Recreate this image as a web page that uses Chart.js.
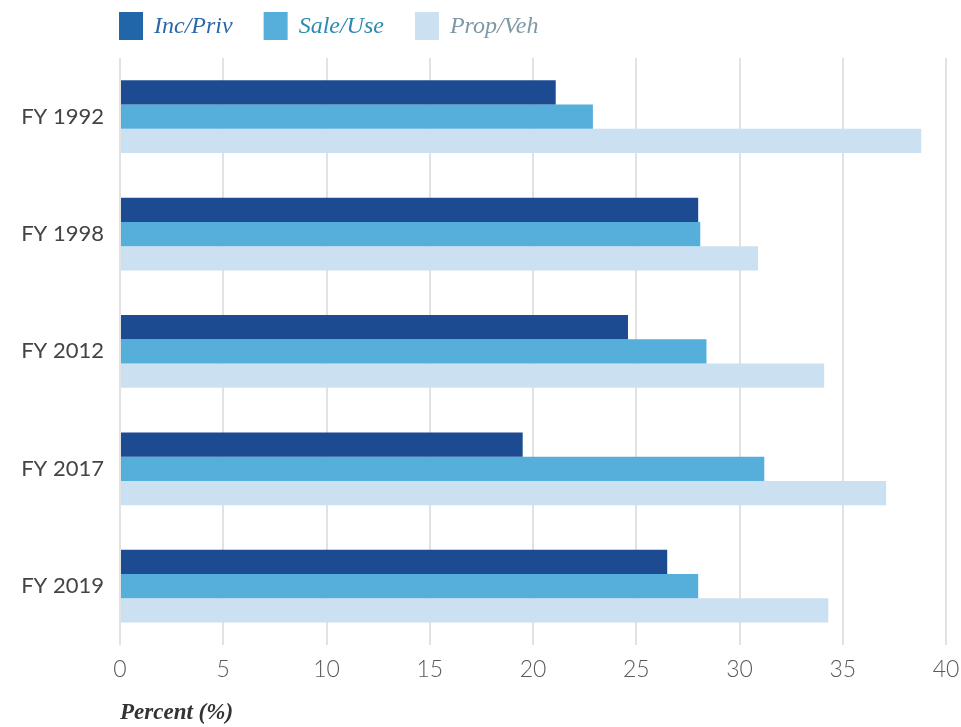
<!DOCTYPE html>
<html>
<head>
<meta charset="utf-8">
<script src="https://cdn.jsdelivr.net/npm/chart.js@4.4.1/dist/chart.umd.min.js"></script>
<style>
    html, body { margin: 0; padding: 0; background: #ffffff; }
    #chartContainer { width: 961px; height: 727px; position: relative; }
</style>
</head>
<body>
<div id="chartContainer"><canvas id="myChart"></canvas></div>
<script>
const years = ["FY 1992", "FY 1998", "FY 2012", "FY 2017", "FY 2019"]
const incPriv = [21.1, 28.0, 24.6, 19.5, 26.5]
const saleUse = [22.9, 28.1, 28.4, 31.2, 28.0]
const propVeh = [38.8, 30.9, 34.1, 37.1, 34.3]
const xTicks = [0, 5, 10, 15, 20, 25, 30, 35, 40]

// legend swatch / label colours per series
const legendStyles = [
    { box: "#2166a9", text: "#2a68a8" },
    { box: "#56aedb", text: "#2a8ab0" },
    { box: "#cbe0f0", text: "#7f98a5" }
]

// simple legend drawn above the plot, lined up with the zero gridline
const topLegend = {
    id: "topLegend",
    afterDraw(chart) {
        const ctx = chart.ctx
        ctx.save()
        ctx.font = "italic 24px 'Liberation Serif', serif"
        ctx.textBaseline = "middle"
        let x = chart.chartArea.left - 1
        chart.data.datasets.forEach((ds, i) => {
            ctx.fillStyle = legendStyles[i].box
            ctx.fillRect(x, 12, 24, 28)
            ctx.fillStyle = legendStyles[i].text
            ctx.fillText(ds.label, x + 35, 27)
            x += 35 + ctx.measureText(ds.label).width + 31
        })
        ctx.restore()
    }
}

const chart = document.getElementById("myChart")
new Chart(chart, {
    type: "bar",
    data: {
        labels: years,
        datasets: [{
            label: "Inc/Priv",
            data: incPriv,
            backgroundColor: "#1c4b92"
        }, {
            label: "Sale/Use",
            data: saleUse,
            backgroundColor: "#56aedb"
        }, {
            label: "Prop/Veh",
            data: propVeh,
            backgroundColor: "#cbe0f0"
        }]
    },
    plugins: [topLegend],
    options: {
        indexAxis: "y",
        responsive: true,
        maintainAspectRatio: false,
        animation: false,
        categoryPercentage: 0.62,
        barPercentage: 1,
        layout: {
            padding: { top: 58, right: 0, left: 14, bottom: 0 }
        },
        plugins: {
            legend: { display: false },
            tooltip: { enabled: false }
        },
        scales: {
            x: {
                min: 0,
                max: 40,
                afterBuildTicks: (axis) => {
                    axis.ticks = xTicks.map((v) => ({ value: v }))
                },
                // keep only a small margin for the "40" label on the right
                afterFit: (axis) => { axis.paddingRight = 15 },
                grid: {
                    color: "#e2e2e2",
                    lineWidth: 2,
                    drawTicks: false
                },
                border: { display: false },
                ticks: {
                    color: "#5a5a5a",
                    padding: 11,
                    maxRotation: 0,
                    font: { family: "Lato, 'Noto Sans', sans-serif", size: 23, weight: 300 }
                },
                title: {
                    display: true,
                    text: "Percent (%)",
                    align: "start",
                    color: "#333333",
                    padding: { top: 5, bottom: 0 },
                    font: { family: "'Liberation Serif', serif", size: 23, style: "italic", weight: "bold" }
                }
            },
            y: {
                afterFit: (axis) => { axis.width = 106 },
                grid: { display: false, drawTicks: false },
                border: { display: false },
                ticks: {
                    color: "#444444",
                    padding: 16,
                    font: { family: "Lato, 'Noto Sans', sans-serif", size: 22, weight: 400 }
                }
            }
        }
    }
})
</script>
</body>
</html>
